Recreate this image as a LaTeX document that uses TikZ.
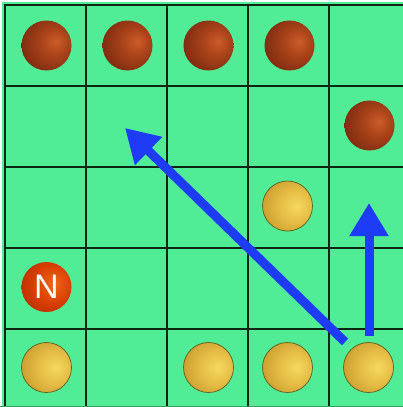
\documentclass[tikz,border=0pt]{standalone}
\usepackage{fontspec}
\setmainfont{Liberation Sans}
\usetikzlibrary{arrows.meta}
\definecolor{boardgreen}{RGB}{80,236,150}
\definecolor{gridline}{RGB}{12,38,18}
\definecolor{arrowblue}{RGB}{30,60,245}
\definecolor{yellowedge}{RGB}{95,95,30}
\pgfdeclareradialshading{brownball}{\pgfpoint{10bp}{4bp}}{%
  rgb(0bp)=(0.80,0.36,0.16);
  rgb(14bp)=(0.66,0.26,0.10);
  rgb(40bp)=(0.42,0.13,0.05);
  rgb(52bp)=(0.25,0.08,0.03);
  rgb(70bp)=(0.20,0.06,0.02)}
\pgfdeclareradialshading{yellowball}{\pgfpoint{10bp}{0bp}}{%
  rgb(0bp)=(0.96,0.85,0.38);
  rgb(16bp)=(0.90,0.74,0.27);
  rgb(40bp)=(0.74,0.56,0.15);
  rgb(52bp)=(0.52,0.43,0.12);
  rgb(70bp)=(0.42,0.36,0.10)}
\pgfdeclareradialshading{redball}{\pgfpoint{8bp}{4bp}}{%
  rgb(0bp)=(0.95,0.40,0.08);
  rgb(20bp)=(0.84,0.24,0.02);
  rgb(44bp)=(0.62,0.14,0.0);
  rgb(56bp)=(0.40,0.08,0.0);
  rgb(70bp)=(0.35,0.06,0.0)}
\tikzset{
  ball/.style={circle, minimum size=50pt, inner sep=0pt},
  brown/.style={ball, shading=brownball},
  yellow/.style={ball, shading=yellowball, draw=yellowedge, line width=0.7pt},
  redN/.style={ball, shading=redball, text=white, font=\fontsize{34}{34}\selectfont},
  gridstroke/.style={draw=gridline, line width=2.9pt},
  movearrow/.style={draw=arrowblue, line width=9pt, -{Triangle[width=37pt,length=33pt]}}
}
\begin{document}
\begin{tikzpicture}[x=1pt,y=-1pt]
\useasboundingbox (0,0) rectangle (403,407);
\begin{scope}
\clip (0,0) rectangle (403,407);
\fill[boardgreen] (2,2) rectangle (403,407);
\foreach \k in {0,...,5} {
  \draw[gridstroke] (5+81*\k,3.55) -- (5+81*\k,420);
  \draw[gridstroke] (3.55,5+81*\k) -- (420,5+81*\k);
}
\draw[draw=gridline!40!boardgreen, line width=2pt] (0,406.5) -- (403,406.5);
% brown balls
\node[brown] (b1) at (46.5,45.5) {};
\node[brown] (b2) at (127.5,45.5) {};
\node[brown] (b3) at (208.5,45.5) {};
\node[brown] (b4) at (289.5,45.5) {};
\node[brown] (b5) at (369.5,125.5) {};
% yellow balls
\node[yellow] (y1) at (287.5,206) {};
\node[yellow] (y2) at (46.5,367.5) {};
\node[yellow] (y3) at (208.5,367.5) {};
\node[yellow] (y4) at (287.5,367.5) {};
\node[yellow] (y5) at (368.5,367.5) {};
% N ball
\node[redN] (n) at (46.5,287) {N};
% arrows
\coordinate (a1s) at (345,342);
\coordinate (a1e) at (125,128);
\coordinate (a2s) at (369,336);
\coordinate (a2e) at (369,203);
\draw[movearrow] (a1s) -- (a1e);
\draw[movearrow] (a2s) -- (a2e);
\end{scope}
\end{tikzpicture}
\end{document}
